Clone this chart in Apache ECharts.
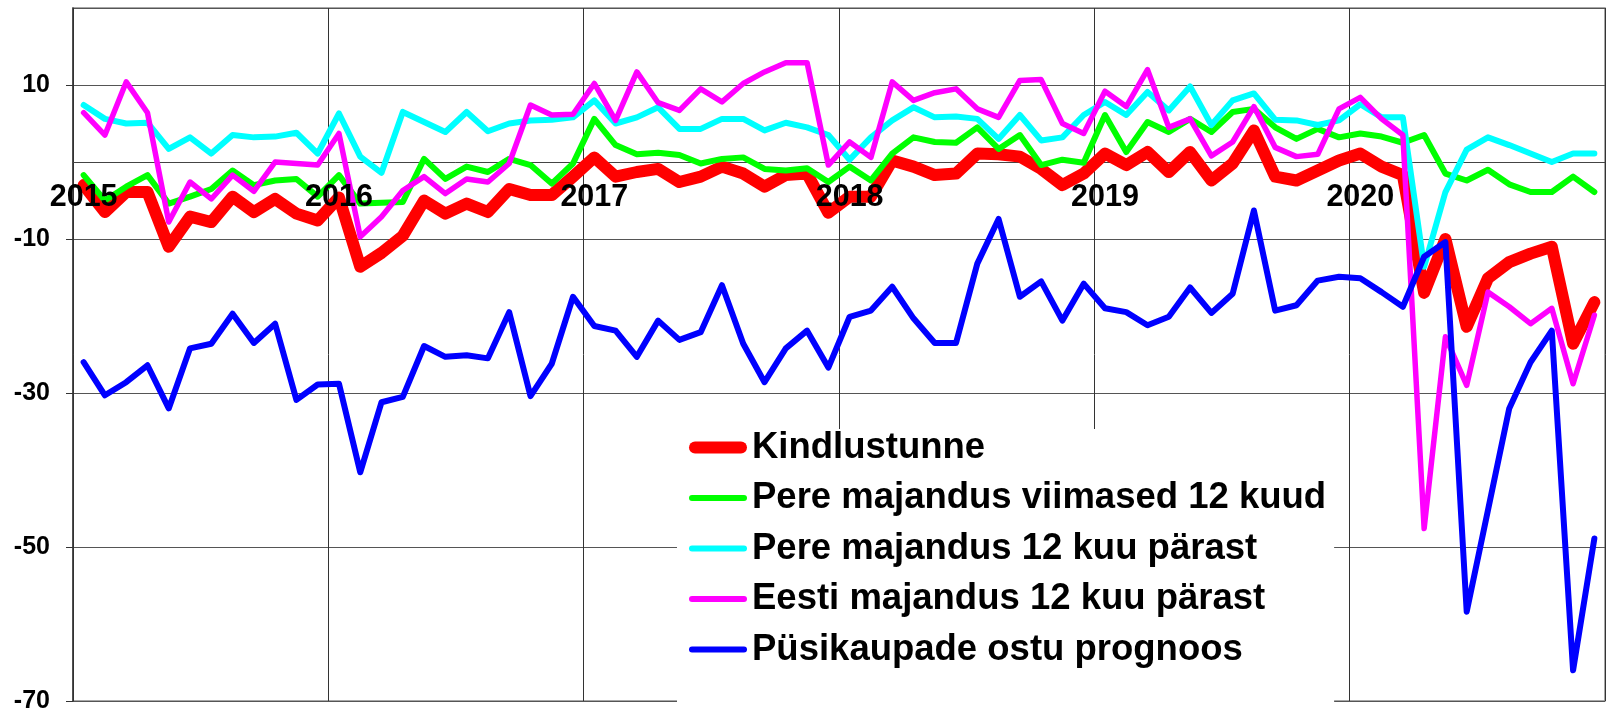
<!DOCTYPE html>
<html>
<head>
<meta charset="utf-8">
<title>Tarbijate kindlustunne</title>
<script src="https://cdn.jsdelivr.net/npm/echarts@6/dist/echarts.min.js"></script>
<style>
    html, body { margin: 0; padding: 0; background: #fff; }
    #main { width: 1608px; height: 713px; }
</style>
</head>
<body>
<div id="main"></div>
<script>
// kuud 2015-01 ... 2020-12
var years = ['2015', '2016', '2017', '2018', '2019', '2020'];
var months = ['01', '02', '03', '04', '05', '06', '07', '08', '09', '10', '11', '12'];
var categories = [];
for (var y = 0; y < years.length; y++) {
    for (var m = 0; m < months.length; m++) {
        categories.push(years[y] + '-' + months[m]);
    }
}

var yTicks = { min: -70, max: 20, step: 20 };

var kindlustunne = [
    -3.0, -6.5, -3.9, -3.9, -11.0, -7.1, -7.8, -4.5, -6.5, -4.8, -6.7, -7.6,
    -4.6, -13.6, -11.8, -9.6, -5.0, -6.7, -5.4, -6.5, -3.5, -4.3, -4.3, -1.9,
    0.6, -1.9, -1.3, -0.9, -2.6, -1.9, -0.6, -1.5, -3.2, -1.7, -1.5, -6.6,
    -4.5, -4.5, 0.2, -0.6, -1.7, -1.5, 1.1, 1.0, 0.7, -0.9, -3.0, -1.5,
    1.1, -0.4, 1.3, -1.3, 1.3, -2.4, -0.2, 4.1, -1.9, -2.4, -1.1, 0.2,
    1.1, -0.6, -1.7, -17.0, -10.0, -21.4, -15.1, -13.0, -11.9, -11.0, -23.6, -18.2
];
var pereViimased = [
    -1.7, -5.0, -3.2, -1.7, -5.4, -4.5, -3.5, -1.1, -3.0, -2.4, -2.2, -4.5,
    -1.7, -5.4, -5.3, -5.2, 0.4, -2.2, -0.6, -1.3, 0.4, -0.4, -2.8, -0.2,
    5.6, 2.2, 1.0, 1.2, 0.9, -0.2, 0.4, 0.6, -0.9, -1.1, -0.8, -2.6,
    -0.6, -2.4, 1.1, 3.2, 2.6, 2.5, 4.5, 1.7, 3.5, -0.4, 0.3, -0.1,
    6.1, 1.3, 5.2, 3.9, 5.6, 3.9, 6.5, 6.9, 4.5, 3.0, 4.3, 3.2,
    3.7, 3.3, 2.5, 3.5, -1.5, -2.4, -1.0, -2.9, -3.9, -3.9, -1.9, -3.9
];
var pereParast = [
    7.4, 5.6, 5.0, 5.1, 1.7, 3.2, 1.1, 3.5, 3.2, 3.3, 3.8, 1.1,
    6.3, 0.7, -1.4, 6.5, 5.2, 3.9, 6.5, 4.0, 5.0, 5.4, 5.5, 5.8,
    8.0, 5.0, 5.8, 7.1, 4.3, 4.3, 5.6, 5.6, 4.1, 5.1, 4.5, 3.5,
    0.3, 3.2, 5.4, 7.1, 5.8, 5.9, 5.6, 3.0, 6.1, 2.8, 3.2, 6.1,
    7.8, 6.1, 9.1, 6.7, 9.8, 4.8, 8.0, 8.9, 5.5, 5.4, 4.8, 5.4,
    7.5, 5.8, 5.8, -13.6, -3.9, 1.6, 3.2, 2.2, 1.1, 0.0, 1.1, 1.1
];
var eestiParast = [
    6.4, 3.5, 10.4, 6.4, -7.8, -2.6, -4.8, -1.7, -3.8, 0.0, -0.2, -0.4,
    3.7, -9.7, -7.1, -3.7, -1.9, -4.1, -2.2, -2.6, -0.2, 7.4, 6.1, 6.2,
    10.2, 5.4, 11.7, 7.7, 6.7, 9.5, 7.8, 10.2, 11.7, 12.9, 12.9, -0.4,
    2.6, 0.6, 10.4, 8.0, 9.0, 9.5, 6.9, 5.8, 10.6, 10.7, 5.0, 3.7,
    9.2, 7.2, 12.0, 4.5, 5.6, 0.8, 2.6, 7.2, 1.9, 0.7, 1.0, 6.9,
    8.4, 5.6, 3.5, -47.6, -22.7, -29.0, -16.9, -18.8, -21.0, -19.0, -28.8, -19.9
];
var pusikaubad = [
    -26.0, -30.3, -28.6, -26.4, -32.0, -24.2, -23.6, -19.7, -23.5, -21.0, -30.9, -28.9,
    -28.8, -40.3, -31.2, -30.5, -23.9, -25.3, -25.1, -25.5, -19.5, -30.4, -26.2, -17.5,
    -21.3, -21.9, -25.3, -20.6, -23.1, -22.1, -16.0, -23.6, -28.6, -24.2, -21.9, -26.7,
    -20.1, -19.3, -16.2, -20.3, -23.5, -23.5, -13.2, -7.4, -17.5, -15.5, -20.6, -15.8,
    -19.0, -19.5, -21.2, -20.1, -16.3, -19.6, -17.1, -6.3, -19.3, -18.6, -15.4, -14.9,
    -15.1, -16.9, -18.8, -12.3, -10.4, -58.4, -45.2, -32.0, -26.0, -21.9, -66.0, -48.9
];

var seriesNames = [
    'Kindlustunne',
    'Pere majandus viimased 12 kuud',
    'Pere majandus 12 kuu pärast',
    'Eesti majandus 12 kuu pärast',
    'Püsikaupade ostu prognoos'
];
var seriesData = [kindlustunne, pereViimased, pereParast, eestiParast, pusikaubad];
var seriesColors = ['#ff0000', '#00ff00', '#00ffff', '#ff00ff', '#0000ff'];
var seriesWidths = [12, 6, 6, 5.5, 6];

// legendi joonekesed (ümarate otstega)
var iconThick = 'path://M6,0h46a6,6 0 0 1 0,12h-46a6,6 0 0 1 0,-12z';
var iconThin = 'path://M3,0h52a3,3 0 0 1 0,6h-52a3,3 0 0 1 0,-6z';

var FONT = "'Liberation Sans', Arial, sans-serif";

function drawChart(id) {
    var myChart = echarts.init(document.getElementById(id));

    var series = [];
    var legendData = [];
    for (var i = 0; i < seriesNames.length; i++) {
        series.push({
            name: seriesNames[i],
            type: 'line',
            symbol: 'none',
            showSymbol: false,
            data: seriesData[i],
            lineStyle: {
                color: seriesColors[i],
                width: seriesWidths[i],
                join: 'round',
                cap: 'round'
            },
            itemStyle: { color: seriesColors[i] },
            emphasis: { disabled: true }
        });
        legendData.push({
            name: seriesNames[i],
            icon: i === 0 ? iconThick : iconThin,
            itemStyle: { color: seriesColors[i] }
        });
    }

    var option = {
        animation: false,
        backgroundColor: '#fff',
        grid: {
            left: 73,
            right: 3,
            top: 8,
            bottom: 12,
            outerBoundsMode: 'none',
            containLabel: false,
            show: true,
            borderColor: '#8a8a8a',
            borderWidth: 1.5
        },
        legend: {
            orient: 'vertical',
            left: 677,
            top: 429,
            padding: [0, 8, 40, 12],
            backgroundColor: '#fff',
            itemWidth: 58,
            itemHeight: 14,
            itemGap: 13.5,
            symbolKeepAspect: true,
            data: legendData,
            textStyle: {
                fontFamily: FONT,
                fontWeight: 'bold',
                fontSize: 36.5,
                color: '#000'
            }
        },
        xAxis: [
            {
                // ruudustik ja nulljoon
                type: 'category',
                data: categories,
                boundaryGap: true,
                axisLine: { onZero: true, lineStyle: { color: '#444', width: 1 } },
                axisTick: { show: false },
                axisLabel: { show: false },
                splitLine: { show: true, interval: 11, lineStyle: { color: '#333', width: 1 } }
            },
            {
                // aastate sildid (joonte peal), nihutatud nulljoone alla
                type: 'category',
                position: 'bottom',
                data: categories,
                boundaryGap: true,
                z: 10,
                axisLine: { show: false, onZero: false },
                axisTick: { show: false },
                splitLine: { show: false },
                axisLabel: {
                    interval: 11,
                    margin: -519,
                    fontFamily: FONT,
                    fontWeight: 'bold',
                    fontSize: 30.5,
                    color: '#000',
                    formatter: function (v) { return v.slice(0, 4); }
                }
            }
        ],
        yAxis: {
            type: 'value',
            min: yTicks.min,
            max: yTicks.max,
            interval: yTicks.step,
            axisLine: { show: true, lineStyle: { color: '#333', width: 1.5 } },
            axisTick: { show: true, length: 7, lineStyle: { color: '#333' } },
            axisLabel: {
                showMaxLabel: false,
                margin: 23,
                fontFamily: FONT,
                fontWeight: 'bold',
                fontSize: 25,
                color: '#000'
            },
            splitLine: { show: true, lineStyle: { color: '#555', width: 1 } }
        },
        series: series
    };

    myChart.setOption(option);
}

drawChart('main');
</script>
</body>
</html>
